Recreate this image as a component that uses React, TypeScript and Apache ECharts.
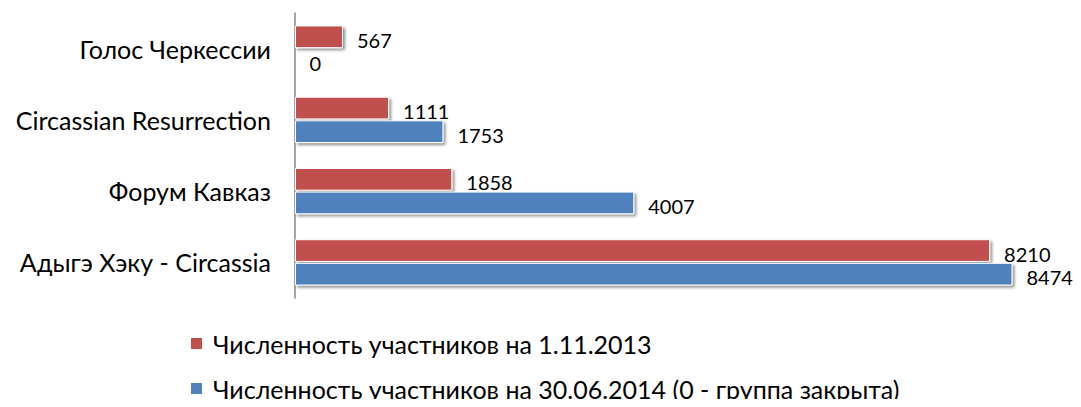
import React, { useEffect, useRef } from "react";
import * as echarts from "echarts";

const categories = ["Голос Черкессии", "Circassian Resurrection", "Форум Кавказ", "Адыгэ Хэку - Circassia"];
const seriesNames = ["Численность участников на 1.11.2013", "Численность участников на 30.06.2014 (0 - группа закрыта)"];
const values2013 = [567, 1111, 1858, 8210];
const values2014 = [0, 1753, 4007, 8474];

const FONT = "Lato, 'Open Sans', sans-serif";

export default function App() {
  const ref = useRef<HTMLDivElement>(null);
  useEffect(() => {
    const chart = echarts.init(ref.current!, null, { renderer: "svg" });
    const shadow = { shadowColor: "rgba(0,0,0,0.45)", shadowBlur: 3, shadowOffsetX: 2, shadowOffsetY: 2 };
    const label = {
      show: true,
      position: "right",
      distance: 14,
      offset: [0, 3],
      fontSize: 20,
      color: "#000",
      fontFamily: FONT,
    };
    const legendBase = {
      left: 189,
      padding: 0,
      itemWidth: 13,
      itemHeight: 13,
      icon: "rect",
      itemGap: 6,
      textStyle: { fontSize: 25, color: "#000", fontFamily: FONT, padding: [0, 0, 0, 5] },
    };
    chart.setOption({
      animation: false,
      textStyle: { fontFamily: FONT },
      grid: { left: 295, right: 24, top: 13, height: 285 },
      legend: [
        { ...legendBase, top: 331, data: [seriesNames[0]] },
        { ...legendBase, top: 376, data: [seriesNames[1]] },
      ],
      xAxis: { type: "value", min: 0, max: 9000, show: false },
      yAxis: {
        type: "category",
        data: categories,
        inverse: true,
        axisTick: { show: false },
        axisLine: { lineStyle: { color: "#888", width: 1.5 } },
        axisLabel: { fontSize: 25, color: "#000", margin: 24, fontFamily: FONT },
      },
      series: [
        {
          name: seriesNames[0],
          type: "bar",
          data: values2013,
          barCategoryGap: "35%",
          barGap: "4%",
          itemStyle: { color: "#C0504D", borderColor: "#fff", borderWidth: 1, ...shadow },
          label,
        },
        {
          name: seriesNames[1],
          type: "bar",
          data: values2014,
          barCategoryGap: "35%",
          barGap: "4%",
          itemStyle: { color: "#4F81BD", borderColor: "#fff", borderWidth: 1, ...shadow },
          label,
        },
      ],
    });
    return () => chart.dispose();
  }, []);
  return <div ref={ref} style={{ width: 1081, height: 407, margin: -8 }} />;
}
